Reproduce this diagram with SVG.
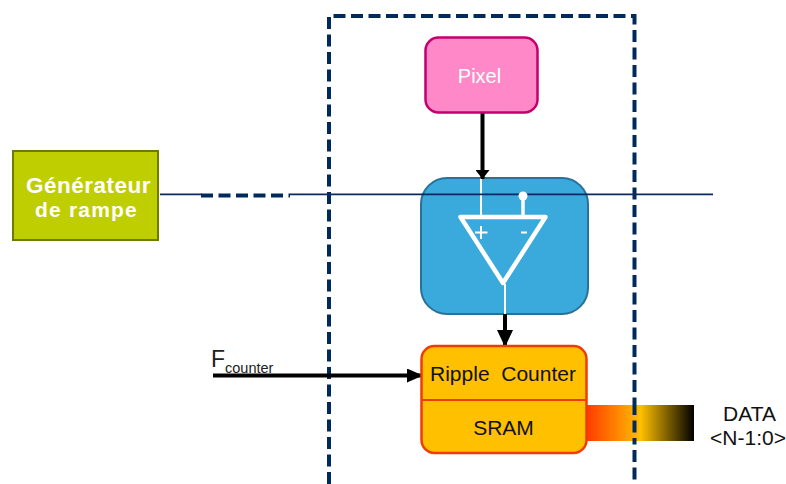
<svg xmlns="http://www.w3.org/2000/svg" width="786" height="484" viewBox="0 0 786 484">
<defs>
<linearGradient id="grad" x1="0" y1="0" x2="1" y2="0">
<stop offset="0" stop-color="#ff3c00"/>
<stop offset="0.5" stop-color="#ffc000"/>
<stop offset="1" stop-color="#000000"/>
</linearGradient>
<marker id="arrow-s" markerUnits="userSpaceOnUse" markerWidth="9" markerHeight="14" refX="9" refY="7" orient="auto"><path d="M0 0L9 7L0 14Z" fill="#000"/></marker>
<marker id="arrow-m" markerUnits="userSpaceOnUse" markerWidth="16" markerHeight="14" refX="16" refY="7" orient="auto"><path d="M0 0L16 7L0 14Z" fill="#000"/></marker>
<marker id="arrow-l" markerUnits="userSpaceOnUse" markerWidth="17" markerHeight="16" refX="17" refY="8" orient="auto"><path d="M0 0L17 8L0 16Z" fill="#000"/></marker>
</defs>
<style>
text{font-family:"Liberation Sans",Arial,sans-serif}
.dash{fill:none;stroke:#002a5c;stroke-width:4;stroke-dasharray:12 5.500}
.thin{fill:none;stroke:#0a2a60;stroke-width:1.800}
.thick{fill:none;stroke:#000;stroke-width:4}
.w{fill:none;stroke:#fff;stroke-linejoin:round}
.dark{fill:#111;font-size:21px;text-anchor:middle}
</style>
<g id="frame"><path class="dash" d="M329 484V16H634.500V484"/></g>
<rect id="gradient-bar" x="587" y="405" width="107" height="36" fill="url(#grad)"/>
<path class="dash" d="M634.500 405V441" style="stroke-dashoffset:2"/>
<g id="comparator"><rect x="421" y="178" width="167" height="136" rx="26" fill="#3aa9dc" stroke="#2a7199" stroke-width="2"/>
<path class="w" stroke-width="4.500" d="M460.500 217H545.500L503 283Z"/>
<path class="w" stroke-width="2" d="M481 178V217M505 284V314"/>
<path class="w" stroke-width="3.500" d="M523 199V217"/>
<path class="w" stroke-width="2" d="M475 232.500H487.500M481 226V239M521 232.500H527"/>
</g>
<g id="connectors">
<path class="thin" d="M160 194.300H202M290 194.300H713"/>
<path d="M201 195.500H290" fill="none" stroke="#002a5c" stroke-width="4" stroke-dasharray="12 5.500"/>
<path class="thick" d="M482.500 113V179" marker-end="url(#arrow-s)"/>
<path class="thick" d="M505 314V347" marker-end="url(#arrow-l)"/>
<path class="thick" d="M213 375.500H423" marker-end="url(#arrow-m)"/>
</g>
<circle cx="523" cy="196" r="4.500" fill="#fff"/>
<g id="generateur"><rect x="13" y="151" width="145" height="89" fill="#bfce00" stroke="#6f7a00" stroke-width="2"/>
<text x="88.500" y="193" fill="#fff" font-size="22.500" letter-spacing="0.500" font-weight="700" text-anchor="middle">Générateur</text>
<text x="86.500" y="217" fill="#fff" font-size="21" letter-spacing="1.200" font-weight="700" text-anchor="middle">de rampe</text></g>
<g id="pixel"><rect x="425.500" y="37.500" width="112" height="75" rx="13" fill="#ff88c8" stroke="#c4006f" stroke-width="2.500"/>
<text x="479.500" y="83" fill="#fff" font-size="20" text-anchor="middle">Pixel</text></g>
<g id="ripple"><rect x="421.500" y="346" width="165" height="107" rx="13" fill="#ffc000" stroke="#f03c00" stroke-width="2.500"/>
<path d="M421.500 400H586.500" stroke="#f03c00" stroke-width="2"/>
<text x="503" y="381" class="dark" xml:space="preserve">Ripple  Counter</text>
<text x="503.500" y="435" class="dark">SRAM</text></g>
<g id="fcounter"><text x="211" y="367" font-size="23" fill="#222">F</text><text x="225" y="373" font-size="14.500" fill="#222">counter</text></g>
<g id="data"><text x="749.500" y="421" class="dark" font-size="21.500">DATA</text><text x="748" y="445" class="dark">&lt;N-1:0&gt;</text></g>
</svg>
